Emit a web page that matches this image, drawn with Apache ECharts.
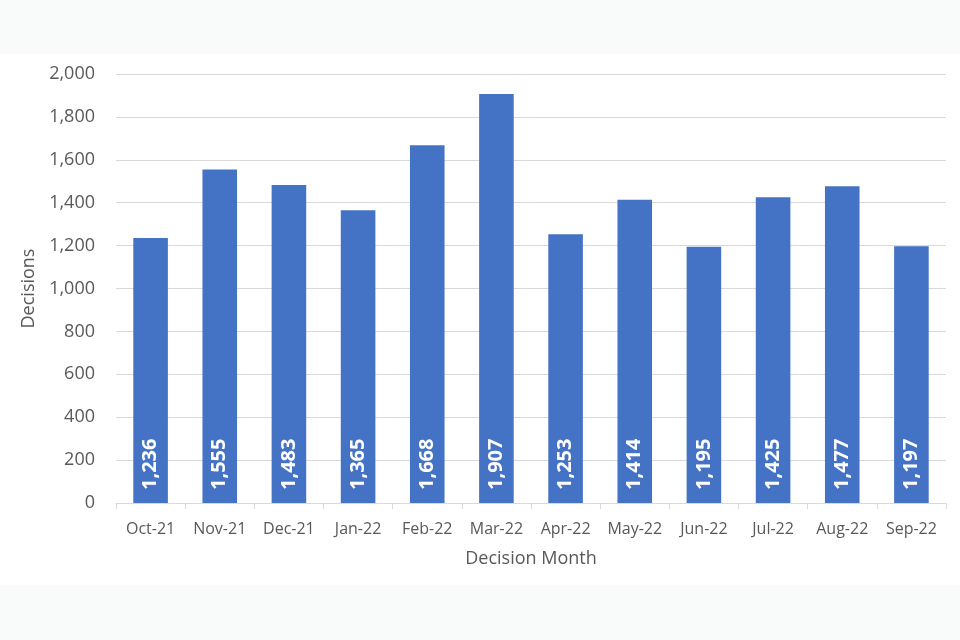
<!DOCTYPE html>
<html>
<head>
<meta charset="utf-8">
<script src="https://cdn.jsdelivr.net/npm/echarts@6/dist/echarts.min.js"></script>
<style>
html,body{margin:0;padding:0;background:#ffffff;}
#chart{width:960px;height:640px;}
</style>
</head>
<body>
<div id="chart"></div>
<script>
const categories = ['Oct-21','Nov-21','Dec-21','Jan-22','Feb-22','Mar-22','Apr-22','May-22','Jun-22','Jul-22','Aug-22','Sep-22'];
const decisions = [1236, 1555, 1483, 1365, 1668, 1907, 1253, 1414, 1195, 1425, 1477, 1197];
const yTicks = { min: 0, max: 2000, interval: 200 };

const fmt = v => String(v).replace(/\B(?=(\d{3})+(?!\d))/g, ',');
const FONT = '"Open Sans", "Noto Sans", sans-serif';

const chart = echarts.init(document.getElementById('chart'), null, { renderer: 'canvas' });
chart.setOption({
  animation: false,
  backgroundColor: '#ffffff',
  textStyle: { fontFamily: FONT },
  graphic: [
    { type: 'rect', left: 0, top: 0, shape: { width: 960, height: 54 }, style: { fill: '#f9fbfb' }, silent: true, z: -10 },
    { type: 'rect', left: 0, top: 585, shape: { width: 960, height: 55 }, style: { fill: '#f9fbfb' }, silent: true, z: -10 }
  ],
  grid: { left: 116, right: 14, top: 74, bottom: 137, containLabel: false },
  xAxis: {
    type: 'category',
    data: categories,
    name: 'Decision Month',
    nameLocation: 'middle',
    nameGap: 47,
    nameTextStyle: { fontSize: 18, color: '#595959', fontFamily: FONT },
    axisLine: { show: true, lineStyle: { color: '#d9d9d9', width: 1 } },
    axisTick: { show: true, alignWithLabel: false, length: 6, lineStyle: { color: '#d9d9d9' } },
    axisLabel: { fontSize: 16, color: '#595959', margin: 18, fontFamily: FONT, interval: 0 }
  },
  yAxis: {
    type: 'value',
    min: yTicks.min,
    max: yTicks.max,
    interval: yTicks.interval,
    name: 'Decisions',
    nameLocation: 'middle',
    nameGap: 77,
    nameRotate: 90,
    nameTextStyle: { fontSize: 18, color: '#595959', fontFamily: FONT },
    axisLine: { show: false },
    axisTick: { show: false },
    axisLabel: { fontSize: 18, color: '#595959', margin: 21, fontFamily: FONT, formatter: fmt },
    splitLine: { show: true, lineStyle: { color: '#d9d9d9', width: 1 } }
  },
  series: [{
    type: 'bar',
    data: decisions,
    barWidth: '50%',
    itemStyle: { color: '#4472c4' },
    label: {
      show: true,
      position: 'insideBottom',
      distance: 13,
      rotate: 90,
      align: 'left',
      verticalAlign: 'middle',
      color: '#ffffff',
      fontSize: 20,
      fontWeight: 'bold',
      fontFamily: FONT,
      formatter: p => fmt(p.value)
    }
  }]
});
</script>
</body>
</html>
